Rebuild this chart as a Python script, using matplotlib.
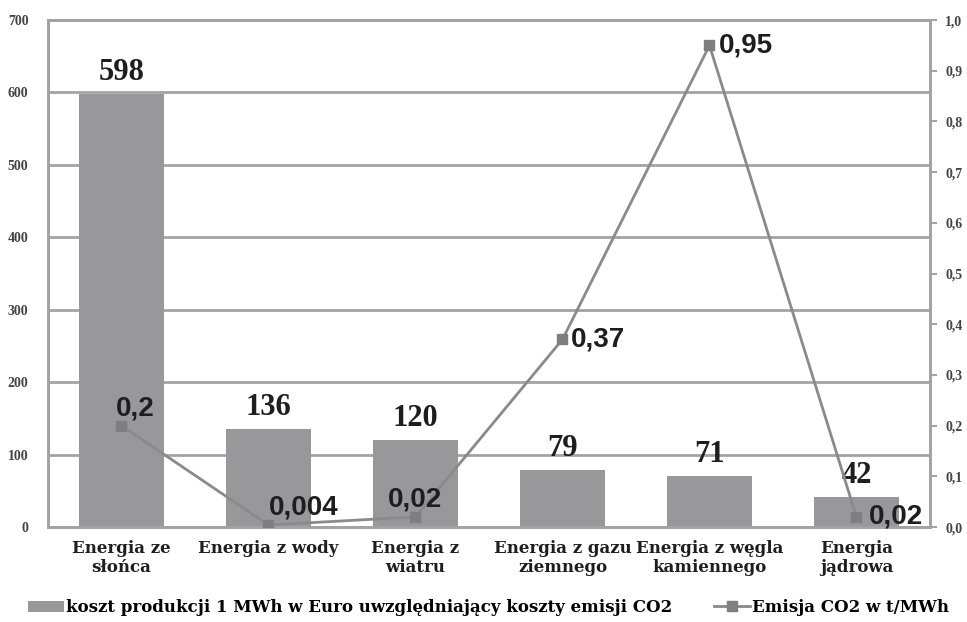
import numpy as np
import matplotlib.pyplot as plt
from matplotlib.ticker import FuncFormatter

categories = ['Energia ze\nsłońca', 'Energia z wody', 'Energia z\nwiatru',
              'Energia z gazu\nziemnego', 'Energia z węgla\nkamiennego', 'Energia\njądrowa']
cost = [598, 136, 120, 79, 71, 42]
emission = [0.2, 0.004, 0.02, 0.37, 0.95, 0.02]
emission_labels = ['0,2', '0,004', '0,02', '0,37', '0,95', '0,02']

bar_name = 'koszt produkcji 1 MWh w Euro uwzględniający koszty emisji CO2'
line_name = 'Emisja CO2 w t/MWh'

grid_c = '#a3a3a5'
bar_c = '#98989b'
line_c = '#8a8a8c'
text_c = '#1e1e1e'
serif = 'Liberation Serif'
wide_serif = 'DejaVu Serif'

fig = plt.figure(figsize=(9.67, 6.22), dpi=100)
ax = fig.add_axes([0.0496, 0.1527, 0.9121, 0.8151])
x = np.arange(len(categories))

bars = ax.bar(x, cost, width=0.58, color=bar_c, label=bar_name, zorder=2)
ax.set_ylim(0, 700)
ax.set_xlim(-0.5, len(categories) - 0.5)
ax.set_yticks(range(0, 701, 100))
ax.yaxis.grid(True, color=grid_c, linewidth=2, zorder=0)
ax.set_axisbelow(True)
ax.tick_params(axis='y', length=0, pad=14, labelsize=10, labelcolor='#444444')
ax.tick_params(axis='x', length=0, pad=9)
for lbl in ax.get_yticklabels():
    lbl.set_fontfamily(serif)
    lbl.set_fontweight('bold')
ax.set_xticks(x)
ax.set_xticklabels(categories, fontfamily=wide_serif, fontweight='bold', fontsize=12,
                   color=text_c, linespacing=1.2)
for s in ax.spines.values():
    s.set_color(grid_c)
    s.set_linewidth(2)

for xi, v in zip(x, cost):
    ax.annotate(str(v), (xi, v), xytext=(0, 5), textcoords='offset points',
                ha='center', va='bottom', fontsize=22, fontweight='bold',
                fontfamily=serif, color=text_c)

ax2 = ax.twinx()
ax2.set_ylim(0, 1.0)
ax2.set_yticks(np.arange(0, 1.01, 0.1))
ax2.yaxis.set_major_formatter(FuncFormatter(lambda v, p: f'{v:.1f}'.replace('.', ',')))
ax2.tick_params(axis='y', length=5, width=1.5, color=grid_c, pad=6,
                labelsize=10, labelcolor='#444444')
for lbl in ax2.get_yticklabels():
    lbl.set_fontfamily(serif)
    lbl.set_fontweight('bold')
for s in ax2.spines.values():
    s.set_color(grid_c)
    s.set_linewidth(2)

ax2.plot(x, emission, color=line_c, linewidth=2, marker='s', markersize=6.5,
         markerfacecolor='#7f7f82', markeredgecolor='#7f7f82', label=line_name, zorder=3)

offsets = [(-4, 3), (0, 3), (0, 3), (6, 0), (7, 0), (9, 0)]
aligns = [('left', 'bottom'), ('left', 'bottom'), ('center', 'bottom'),
          ('left', 'center'), ('left', 'center'), ('left', 'center')]
for xi, v, t, off, al in zip(x, emission, emission_labels, offsets, aligns):
    ax2.annotate(t, (xi, v), xytext=off, textcoords='offset points',
                 ha=al[0], va=al[1], fontsize=20, fontweight='bold',
                 fontfamily='Liberation Sans', color=text_c)

handles = [bars, ax2.get_lines()[0]]
fig.legend(handles, [bar_name, line_name], loc='lower center', ncol=2,
           bbox_to_anchor=(0.505, -0.015), frameon=False, handlelength=2.2,
           handletextpad=0.1, columnspacing=2.5,
           prop={'family': wide_serif, 'weight': 'bold', 'size': 12})

fig.savefig('out.png', dpi=100)
